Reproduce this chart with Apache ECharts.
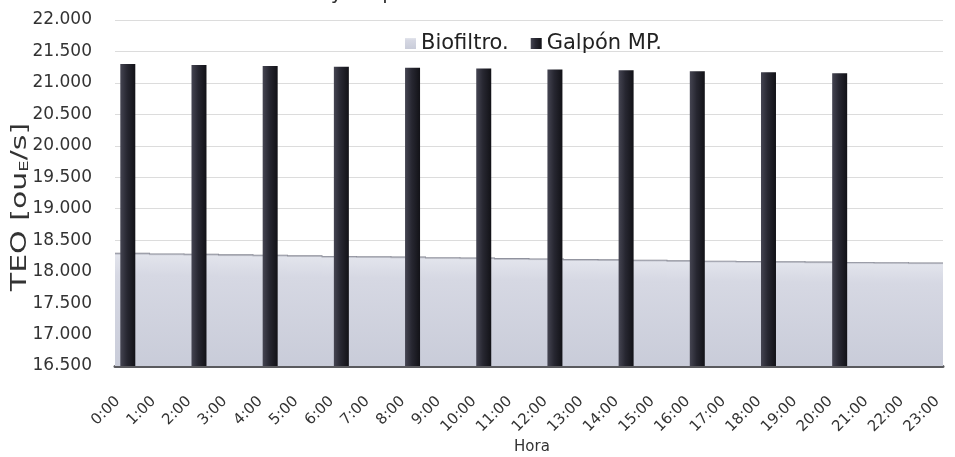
<!DOCTYPE html>
<html>
<head>
<meta charset="utf-8">
<script src="https://cdn.jsdelivr.net/npm/echarts@6/dist/echarts.min.js"></script>
<style>
  html, body { margin: 0; padding: 0; background: #ffffff; }
  #chart { width: 955px; height: 457px; }
</style>
</head>
<body>
<div id="chart"></div>
<script>
// Hourly categories
const hours = ['0:00','1:00','2:00','3:00','4:00','5:00','6:00','7:00','8:00','9:00','10:00','11:00',
               '12:00','13:00','14:00','15:00','16:00','17:00','18:00','19:00','20:00','21:00','22:00','23:00'];

// TEO [ouE/s] per hour
const biofiltro = [18300, 18290, 18285, 18275, 18270, 18260, 18250, 18245, 18240, 18230, 18225, 18215,
                   18210, 18200, 18195, 18190, 18180, 18175, 18170, 18165, 18160, 18155, 18150, 18145];
const galpon = [21300, null, 21285, null, 21270, null, 21255, null, 21240, null, 21230, null,
                21215, null, 21200, null, 21185, null, 21170, null, 21155, null, null, null];

// Value axis range
const yMin = 16500, yMax = 22000, yStep = 500;

const seriesNames = ['Biofiltro.', 'Galpón MP.'];

const fmt = v => (v / 1000).toFixed(3);
const FONT = 'DejaVu Sans';

// The slim columns sit on an hour-index axis so their spacing can differ from the wide series
const galponPoints = galpon.map((v, i) => [i, v]);

const chart = echarts.init(document.getElementById('chart'), null, { renderer: 'canvas' });

const option = {
  backgroundColor: '#ffffff',
  animation: false,
  textStyle: { fontFamily: FONT },
  legend: {
    data: seriesNames,
    left: 400,
    top: 28,
    icon: 'rect',
    itemWidth: 11,
    itemHeight: 11,
    itemGap: 22,
    textStyle: { fontFamily: FONT, fontSize: 21, color: '#222' }
  },
  grid: [
    { left: 115, right: 12, top: 20, bottom: 91 },   // back wall, floor and wide series
    { left: 110, right: 0, top: 20, bottom: 91 },    // slim columns
    { left: 100, right: 0, top: 20, bottom: 91 }     // category labels
  ],
  xAxis: [
    {
      type: 'category', gridIndex: 0, data: hours,
      axisLine: { show: true, lineStyle: { color: '#5a5a5e', width: 3 } },
      axisTick: { show: false }, axisLabel: { show: false }, splitLine: { show: false }
    },
    {
      type: 'value', gridIndex: 1, min: -0.5, max: 23.24,
      axisLine: { show: false }, axisTick: { show: false }, axisLabel: { show: false }, splitLine: { show: false }
    },
    {
      type: 'category', gridIndex: 2, data: hours,
      axisLine: { show: false }, axisTick: { show: false },
      axisLabel: { rotate: 45, margin: 33, fontFamily: FONT, fontSize: 15, color: '#333', interval: 0 }
    }
  ],
  yAxis: [
    {
      type: 'value', gridIndex: 0, min: yMin, max: yMax, interval: yStep,
      axisLine: { show: false }, axisTick: { show: false },
      axisLabel: { formatter: fmt, margin: 23, fontFamily: FONT, fontSize: 17, color: '#333' },
      splitLine: { show: true, lineStyle: { color: '#dcdcdc', width: 1 } }
    },
    {
      type: 'value', gridIndex: 1, min: yMin, max: yMax, interval: yStep,
      axisLine: { show: false }, axisTick: { show: false }, axisLabel: { show: false }, splitLine: { show: false }
    },
    {
      type: 'value', gridIndex: 2, min: yMin, max: yMax, interval: yStep, show: false
    }
  ],
  series: [
    {
      name: seriesNames[0],
      type: 'bar',
      xAxisIndex: 0, yAxisIndex: 0,
      data: biofiltro,
      barWidth: '103%',
      z: 2,
      itemStyle: {
        color: new echarts.graphic.LinearGradient(0, 0, 0, 1, [
          { offset: 0, color: '#7e808c' },
          { offset: 0.02, color: '#e2e4ec' },
          { offset: 0.2, color: '#d6d8e3' },
          { offset: 1, color: '#c9ccd9' }
        ])
      }
    },
    {
      name: seriesNames[1],
      type: 'bar',
      xAxisIndex: 1, yAxisIndex: 1,
      data: galponPoints,
      barWidth: 15,
      z: 5,
      itemStyle: {
        color: new echarts.graphic.LinearGradient(0, 0, 1, 0, [
          { offset: 0, color: '#454552' },
          { offset: 0.45, color: '#272731' },
          { offset: 1, color: '#121217' }
        ])
      }
    }
  ],
  graphic: [
    {
      type: 'text', left: 200, top: -16, silent: true,
      style: { text: 'TEO Biofiltro y Galpón MP.', font: '20px "DejaVu Sans"', fill: '#333' }
    },
    {
      type: 'text', x: 20, y: 207, rotation: Math.PI / 2, scaleY: 0.72, silent: true,
      style: {
        text: 'TEO [ou{s|E}/s]',
        font: '30px "DejaVu Sans"', fill: '#333',
        align: 'center', verticalAlign: 'middle',
        rich: { s: { font: '18px "DejaVu Sans"', fill: '#333', verticalAlign: 'bottom', padding: [12, 0, 0, 0] } }
      }
    },
    {
      type: 'text', x: 532, y: 447, silent: true,
      style: { text: 'Hora', font: '15px "DejaVu Sans"', fill: '#333', align: 'center', verticalAlign: 'middle' }
    }
  ]
};

chart.setOption(option);
</script>
</body>
</html>
